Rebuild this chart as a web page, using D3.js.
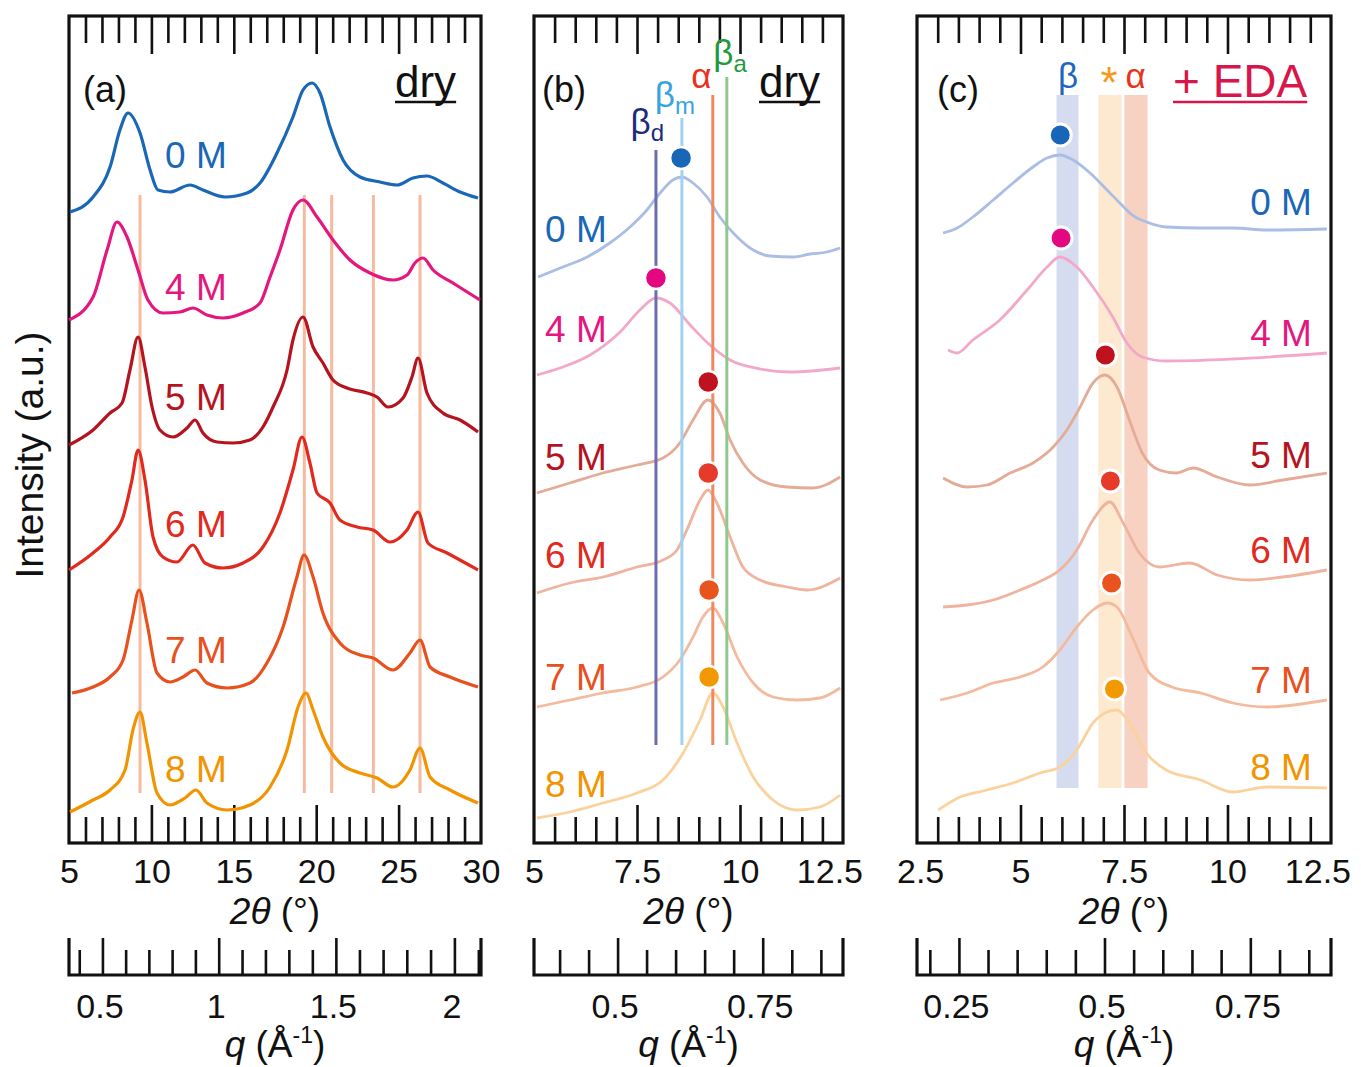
<!DOCTYPE html>
<html>
<head>
<meta charset="utf-8">
<script src="https://cdn.jsdelivr.net/npm/d3@7"></script>
<style>
body { margin: 0; background: #fff; }
svg { display: block; font-family: "Liberation Sans", Arial, Helvetica, sans-serif; }
</style>
</head>
<body>
<svg id="fig" width="1361" height="1067"></svg>
<script>
// ---------- data (2θ in degrees, intensity in arbitrary offset units) ----------
const concentrations = ["0 M", "4 M", "5 M", "6 M", "7 M", "8 M"]

// panel (a): dry, wide range
const a0M = [[5.06,631],[6.46,646],[7.49,676],[8.09,713],[8.58,730],[9.31,710],[9.92,673],[10.4,653],[11.13,651],[12.34,658],[13.13,653],[14.47,646],[15.8,650],[16.59,660],[17.62,690],[18.59,726],[19.2,753],[19.75,760],[20.23,750],[20.84,716],[21.63,683],[22.66,666],[23.87,661],[24.9,658],[25.87,665],[26.72,667],[27.69,660],[28.73,651],[29.82,645]]
const a4M = [[5.0,523],[6.46,546],[7.31,593],[7.91,621],[8.52,606],[9.19,573],[9.79,543],[10.7,530],[11.74,531],[12.52,535],[13.37,528],[14.34,525],[15.56,530],[16.59,540],[17.2,566],[17.8,593],[18.59,633],[19.2,643],[20.05,626],[21.02,603],[22.05,583],[23.26,570],[24.66,563],[25.51,568],[25.99,580],[26.48,585],[27.09,573],[28.3,560],[29.94,543]]
const a5M = [[5.0,398],[6.46,413],[7.49,430],[8.22,440],[8.7,473],[9.19,506],[9.61,476],[10.04,436],[10.52,413],[11.31,406],[12.16,415],[12.65,423],[13.13,410],[13.98,401],[14.95,400],[15.98,403],[16.77,416],[17.38,436],[18.23,473],[18.59,503],[19.2,526],[19.81,496],[20.41,480],[21.02,463],[21.87,455],[23.08,450],[23.69,446],[24.36,436],[25.27,445],[25.81,466],[26.18,485],[26.72,450],[27.69,430],[28.73,423],[29.82,411]]
const a6M = [[5.0,273],[6.46,290],[7.49,306],[8.28,326],[8.82,363],[9.19,393],[9.61,363],[10.1,306],[10.7,286],[11.55,281],[12.52,298],[13.25,280],[14.34,275],[15.56,280],[16.77,296],[17.8,330],[18.59,373],[19.14,406],[19.62,380],[20.05,350],[20.84,340],[21.44,323],[22.48,316],[23.45,313],[24.48,301],[25.51,313],[26.18,331],[26.78,300],[27.94,290],[29.82,273]]
const a7M = [[5.18,150],[6.46,156],[7.49,166],[8.28,183],[8.82,223],[9.25,253],[9.73,220],[10.34,170],[11.13,161],[11.92,166],[12.65,173],[13.37,160],[14.59,155],[15.98,160],[17.01,180],[17.99,216],[18.83,266],[19.26,288],[19.81,266],[20.41,230],[21.44,200],[22.66,188],[23.45,185],[24.66,173],[25.69,190],[26.3,203],[26.91,176],[28.12,166],[29.82,156]]
const a8M = [[5.06,31],[6.46,43],[7.49,53],[8.4,73],[8.88,113],[9.31,131],[9.73,100],[10.34,50],[11.13,38],[12.04,45],[12.71,53],[13.37,40],[14.59,33],[15.98,38],[17.2,56],[18.23,93],[18.9,136],[19.38,150],[19.81,133],[20.41,106],[21.44,80],[22.66,70],[23.69,65],[24.66,56],[25.69,73],[26.3,95],[26.91,66],[28.12,53],[29.82,40]]
const refLinesA = [9.31, 19.28, 20.94, 23.47, 26.3]

// panel (b): dry, low-angle zoom
const b0M = [[5.1,566],[5.7,576],[6.29,586],[6.84,600],[7.33,616],[7.74,633],[8.06,650],[8.37,663],[8.59,666],[8.86,660],[9.2,646],[9.51,626],[9.93,606],[10.32,593],[10.73,587],[11.29,586],[11.7,589],[12.11,591],[12.43,595]]
const b4M = [[5.07,468],[5.63,475],[6.36,488],[7.09,511],[7.57,533],[7.96,545],[8.3,540],[8.79,518],[9.27,498],[9.76,483],[10.49,474],[11.21,471],[12.43,475]]
const b5M = [[5.07,350],[5.87,360],[6.67,370],[7.5,378],[8.13,385],[8.54,400],[8.86,423],[9.22,443],[9.51,430],[9.76,403],[10.07,380],[10.49,363],[11.14,356],[11.77,355],[12.43,366]]
const b6M = [[5.07,250],[5.87,260],[6.67,266],[7.5,276],[8.13,283],[8.47,293],[8.71,313],[9.03,343],[9.22,353],[9.44,340],[9.76,306],[10.07,276],[10.49,263],[11.14,256],[11.63,253],[12.43,265]]
const b7M = [[5.07,136],[5.87,143],[6.67,150],[7.5,156],[8.13,166],[8.54,183],[8.86,206],[9.1,226],[9.34,235],[9.59,220],[9.93,186],[10.32,160],[10.8,146],[11.38,143],[11.94,145],[12.43,155]]
const b8M = [[5.07,25],[5.87,31],[6.67,40],[7.5,50],[8.13,63],[8.62,90],[9.03,123],[9.34,150],[9.59,136],[9.93,100],[10.32,66],[10.8,43],[11.38,33],[11.94,36],[12.43,48]]
const peaksB = [[8.57,685],[7.96,565],[9.23,461],[9.23,370],[9.25,253],[9.25,166]]
const phaseNamesB = ["β", "β", "α", "β"]
const phaseSubsB = ["d", "m", "", "a"]
const phaseTTB = [7.96, 8.59, 9.34, 9.68]
const phaseTopB = [693, 725, 748, 766]
const phaseBottomB = 98

// panel (c): + EDA
const c0M = [[3.13,610],[3.47,615],[3.85,626],[4.34,643],[4.82,660],[5.3,676],[5.64,685],[5.95,688],[6.27,683],[6.68,670],[7.09,653],[7.4,640],[7.7,628],[8.11,620],[8.52,616],[9.35,615],[10.13,615],[10.95,613],[12.4,614]]
const c4M = [[3.25,493],[3.47,490],[3.85,503],[4.5,523],[5.16,553],[5.64,576],[5.95,586],[6.36,576],[6.75,556],[7.23,526],[7.57,500],[7.94,486],[8.52,482],[10.13,484],[12.4,490]]
const c5M = [[3.13,365],[3.71,356],[4.19,358],[4.75,370],[5.3,380],[5.79,396],[6.12,413],[6.44,436],[6.75,460],[7.04,468],[7.33,456],[7.63,423],[7.94,390],[8.35,373],[8.76,370],[9.17,375],[9.75,366],[10.54,358],[11.34,363],[12.4,370]]
const c6M = [[3.13,236],[3.71,238],[4.34,243],[4.99,253],[5.54,263],[5.95,273],[6.36,293],[6.75,323],[7.16,341],[7.48,320],[7.87,290],[8.35,276],[9.09,280],[9.75,268],[10.54,263],[11.34,266],[12.4,273]]
const c7M = [[3.06,143],[3.71,150],[4.34,160],[4.99,166],[5.54,176],[5.95,193],[6.36,216],[6.75,233],[7.09,240],[7.33,236],[7.7,206],[8.11,170],[8.66,156],[9.35,150],[10.13,140],[10.95,136],[12.4,143]]
const c8M = [[3.01,33],[3.54,46],[4.19,53],[4.82,60],[5.47,70],[5.95,76],[6.36,93],[6.75,120],[7.09,131],[7.33,133],[7.63,120],[8.04,90],[8.52,73],[9.35,63],[10.13,51],[10.95,56],[12.4,55]]
const peaksC = [[5.96,708],[5.98,605],[7.05,488],[7.17,362],[7.2,260],[7.27,154]]
const bandNamesC = ["β", "*", "α"]
const bandRangesC = [[5.87,6.4],[6.88,7.44],[7.51,8.07]]
const bandTopC = 748, bandBottomC = 55

// tick labels
const ttLabelsA = [5, 10, 15, 20, 25, 30]
const ttLabelsB = [5, 7.5, 10, 12.5]
const ttLabelsC = [2.5, 5, 7.5, 10, 12.5]
const qLabelsA = [0.5, 1, 1.5, 2]
const qLabelsB = [0.5, 0.75]
const qLabelsC = [0.25, 0.5, 0.75]

// ---------- styles & layout ----------
const strongColors = ["#1a67b6", "#e3177e", "#b5131e", "#e1291d", "#e8501d", "#f29300"]
const paleColors = ["#aabde5", "#f3a8ca", "#e4ab97", "#efb39e", "#f3ba9d", "#fbd29d"]
const dotColors = ["#1766b8", "#e4077f", "#c0111f", "#e63a2a", "#e8531e", "#f29800"]
const phaseTextColors = ["#1c2a80", "#37a4e0", "#e8321e", "#1e9a3d"]
const phaseLineColors = ["#6d6cb0", "#a0d2f1", "#ec8a62", "#90c98d"]
const bandFills = ["#d5dcf0", "#fde9cf", "#f7d2c3"]
const bandTextColors = ["#1f66bd", "#f39a1b", "#e8321e"]

const TOP = 16, BOTTOM = 843, QBASE = 975
const lambda = 1.5406
const twoTheta = q => 2 * Math.asin(q * lambda / (4 * Math.PI)) * 180 / Math.PI

const svg = d3.select("#fig")
const y = d3.scaleLinear().domain([0, 827]).range([BOTTOM, TOP])
const line = x => d3.line().x(d => x(d[0])).y(d => y(d[1])).curve(d3.curveMonotoneX)

const panels = [
    {x0: 69, x1: 481, domain: [5, 30], step: 1, major: 5, labels: ttLabelsA, q: [0.4, 2.1, 0.1], qLabels: qLabelsA},
    {x0: 534, x1: 843, domain: [5, 12.5], step: 0.5, major: 2.5, labels: ttLabelsB, q: [0.4, 0.85, 0.05], qLabels: qLabelsB},
    {x0: 917, x1: 1331, domain: [2.5, 12.5], step: 0.5, major: 2.5, labels: ttLabelsC, q: [0.2, 0.85, 0.05], qLabels: qLabelsC}
]

const near = (a, b) => Math.abs(a - b) < 1e-6
const styleTicks = (g, w) => {
    g.select(".domain").remove()
    g.selectAll(".tick line").attr("stroke", "#111").attr("stroke-width", w)
}
const styleLabels = (g, size, yPos) => {
    g.select(".domain").remove()
    g.attr("font-family", null).attr("font-size", size)
    g.selectAll(".tick line").remove()
    g.selectAll(".tick text").attr("fill", "#111").attr("y", yPos).attr("dy", null)
}
// keep end labels from running far outside their frame
const clampLabels = (g, x0, x1) => {
    g.selectAll(".tick").each(function () {
        const t = d3.select(this).select("text")
        const w = t.node().getComputedTextLength()
        const cx = +d3.select(this).attr("transform").match(/translate\(([-\d.]+)/)[1]
        let dx = 0
        if (cx + w / 2 > x1 + 20) dx = x1 + 20 - (cx + w / 2)
        if (cx - w / 2 < x0 - 20) dx = x0 - 20 - (cx - w / 2)
        t.attr("dx", dx)
    })
}

const frames = panels.map(p => {
    const x = d3.scaleLinear().domain(p.domain).range([p.x0, p.x1])
    const g = svg.append("g")
    const inner = d3.range(p.domain[0], p.domain[1] + 1e-6, p.step)
        .filter(v => !near(v, p.domain[0]) && !near(v, p.domain[1]))
    const isMajor = v => near(v / p.major, Math.round(v / p.major))
    const minor = inner.filter(v => !isMajor(v)), major = inner.filter(isMajor)

    // ticks along top and bottom of the frame, pointing inward
    g.append("g").attr("transform", `translate(0,${BOTTOM})`)
        .call(d3.axisBottom(x).tickValues(minor).tickSize(-26).tickFormat(""))
        .call(s => styleTicks(s, 2.6))
    g.append("g").attr("transform", `translate(0,${BOTTOM})`)
        .call(d3.axisBottom(x).tickValues(major).tickSize(-38).tickFormat(""))
        .call(s => styleTicks(s, 2.6))
    g.append("g").attr("transform", `translate(0,${TOP})`)
        .call(d3.axisTop(x).tickValues(minor).tickSize(-27).tickFormat(""))
        .call(s => styleTicks(s, 2.6))
    g.append("g").attr("transform", `translate(0,${TOP})`)
        .call(d3.axisTop(x).tickValues(major).tickSize(-38).tickFormat(""))
        .call(s => styleTicks(s, 2.6))

    g.append("rect")
        .attr("x", p.x0).attr("y", TOP)
        .attr("width", p.x1 - p.x0).attr("height", BOTTOM - TOP)
        .attr("fill", "none").attr("stroke", "#111").attr("stroke-width", 3.2)

    const lab = g.append("g").attr("transform", `translate(0,${BOTTOM})`)
        .call(d3.axisBottom(x).tickValues(p.labels).tickSize(0).tickFormat(d => String(d)))
        .call(s => styleLabels(s, 34, 40))
    clampLabels(lab, p.x0, p.x1)

    const cx = (p.x0 + p.x1) / 2
    const t2 = g.append("text").attr("x", cx).attr("y", 924)
        .attr("text-anchor", "middle").attr("font-size", 37).attr("fill", "#111")
    t2.append("tspan").attr("font-style", "italic").text("2θ")
    t2.append("tspan").text(" (°)")

    // secondary q axis (Bragg's law, Cu Kα)
    const qGrid = d3.range(p.q[0] - 0.1, p.q[1] + 0.1, 0.005)
    const qx = d3.scaleLinear().domain(qGrid).range(qGrid.map(q => x(twoTheta(q))))
    const qAll = d3.range(p.q[0], p.q[1] + 1e-6, p.q[2])
    const qMajor = qAll.filter(v => p.qLabels.some(l => near(l, v)))
    const qMinor = qAll.filter(v => !p.qLabels.some(l => near(l, v)))
    g.append("g").attr("transform", `translate(0,${QBASE})`)
        .call(d3.axisBottom(qx).tickValues(qMinor).tickSize(-25).tickFormat(""))
        .call(s => styleTicks(s, 2.6))
    g.append("g").attr("transform", `translate(0,${QBASE})`)
        .call(d3.axisBottom(qx).tickValues(qMajor).tickSize(-37).tickFormat(""))
        .call(s => styleTicks(s, 2.6))
    g.append("path")
        .attr("d", `M${p.x0},${QBASE - 37}V${QBASE}H${p.x1}V${QBASE - 37}`)
        .attr("fill", "none").attr("stroke", "#111").attr("stroke-width", 3.2)
    g.append("g").attr("transform", `translate(0,${QBASE})`)
        .call(d3.axisBottom(qx).tickValues(p.qLabels).tickSize(0).tickFormat(d => String(d)))
        .call(s => styleLabels(s, 34, 43))
        .call(s => s.selectAll(".tick text").attr("dx", -3))

    const tq = g.append("text").attr("x", cx).attr("y", 1057)
        .attr("text-anchor", "middle").attr("font-size", 37).attr("fill", "#111")
    tq.append("tspan").attr("font-style", "italic").text("q")
    tq.append("tspan").text(" (Å")
    tq.append("tspan").attr("font-size", 23).attr("dy", -14).text("-1")
    tq.append("tspan").attr("dy", 14).text(")")
    return x
})

const [xa, xb, xc] = frames

// ---------- panel (a) ----------
const ga = svg.append("g")
ga.selectAll("line.ref").data(refLinesA).join("line")
    .attr("x1", d => xa(d)).attr("x2", d => xa(d))
    .attr("y1", y(648)).attr("y2", y(50))
    .attr("stroke", "#f6bb9f").attr("stroke-width", 3)
ga.selectAll("path.trace").data([a0M, a4M, a5M, a6M, a7M, a8M]).join("path")
    .attr("d", d => line(xa)(d))
    .attr("fill", "none").attr("stroke", (d, i) => strongColors[i])
    .attr("stroke-width", 3.2).attr("stroke-linejoin", "round")
const labelIA = [675, 543, 433, 306, 180, 61]
ga.selectAll("text.conc").data(concentrations).join("text")
    .attr("x", xa(10.83)).attr("y", (d, i) => y(labelIA[i]))
    .attr("font-size", 37).attr("fill", (d, i) => strongColors[i]).text(d => d)

// ---------- panel (b) ----------
const gb = svg.append("g")
gb.selectAll("path.trace").data([b0M, b4M, b5M, b6M, b7M, b8M]).join("path")
    .attr("d", d => line(xb)(d))
    .attr("fill", "none").attr("stroke", (d, i) => paleColors[i])
    .attr("stroke-width", 2.8).attr("stroke-linejoin", "round")
gb.selectAll("line.phase").data(phaseTTB).join("line")
    .attr("x1", d => xb(d)).attr("x2", d => xb(d))
    .attr("y1", (d, i) => y(phaseTopB[i])).attr("y2", y(phaseBottomB))
    .attr("stroke", (d, i) => phaseLineColors[i]).attr("stroke-width", 3)
const phaseLabelTT = [7.75, 8.42, 9.06, 9.76]
const phaseLabelI = [709, 736, 755, 778]
gb.selectAll("text.phase").data(phaseNamesB).join("text")
    .attr("x", (d, i) => xb(phaseLabelTT[i])).attr("y", (d, i) => y(phaseLabelI[i]))
    .attr("text-anchor", "middle").attr("font-size", 35)
    .attr("fill", (d, i) => phaseTextColors[i])
    .each(function (d, i) {
        const t = d3.select(this)
        t.append("tspan").text(d)
        if (phaseSubsB[i]) t.append("tspan").attr("font-size", 24).attr("dy", 7).text(phaseSubsB[i])
    })
gb.selectAll("circle").data(peaksB).join("circle")
    .attr("cx", d => xb(d[0])).attr("cy", d => y(d[1])).attr("r", 11)
    .attr("fill", (d, i) => dotColors[i]).attr("stroke", "#fff").attr("stroke-width", 2.5)
const labelIB = [601, 501, 373, 275, 153, 46]
gb.selectAll("text.conc").data(concentrations).join("text")
    .attr("x", xb(5.27)).attr("y", (d, i) => y(labelIB[i]))
    .attr("font-size", 37).attr("fill", (d, i) => strongColors[i]).text(d => d)

// ---------- panel (c) ----------
const gc = svg.append("g")
gc.selectAll("rect.band").data(bandRangesC).join("rect")
    .attr("x", d => xc(d[0])).attr("width", d => xc(d[1]) - xc(d[0]))
    .attr("y", y(bandTopC)).attr("height", y(bandBottomC) - y(bandTopC))
    .attr("fill", (d, i) => bandFills[i])
const bandLabelTT = [6.15, 7.14, 7.78]
gc.selectAll("text.band").data(bandNamesC).join("text")
    .attr("x", (d, i) => xc(bandLabelTT[i])).attr("y", (d, i) => y(d === "*" ? 745 : 755))
    .attr("text-anchor", "middle").attr("font-size", (d) => d === "*" ? 44 : 35)
    .attr("fill", (d, i) => bandTextColors[i]).text(d => d)
gc.selectAll("path.trace").data([c0M, c4M, c5M, c6M, c7M, c8M]).join("path")
    .attr("d", d => line(xc)(d))
    .attr("fill", "none").attr("stroke", (d, i) => paleColors[i])
    .attr("stroke-width", 2.8).attr("stroke-linejoin", "round")
gc.selectAll("circle").data(peaksC).join("circle")
    .attr("cx", d => xc(d[0])).attr("cy", d => y(d[1])).attr("r", 11)
    .attr("fill", (d, i) => dotColors[i]).attr("stroke", "#fff").attr("stroke-width", 3)
const labelIC = [628, 497, 375, 280, 150, 63]
gc.selectAll("text.conc").data(concentrations).join("text")
    .attr("x", xc(12.04)).attr("y", (d, i) => y(labelIC[i]))
    .attr("text-anchor", "end")
    .attr("font-size", 37).attr("fill", (d, i) => strongColors[i]).text(d => d)

// ---------- panel tags and titles ----------
const tags = [["(a)", 83, 102], ["(b)", 542, 102], ["(c)", 937, 102]]
svg.selectAll("text.tag").data(tags).join("text")
    .attr("x", d => d[1]).attr("y", d => d[2])
    .attr("font-size", 36).attr("fill", "#111").text(d => d[0])

const conditions = [["dry", 395, "#111", 44], ["dry", 759, "#111", 44], ["+ EDA", 1173, "#d7174b", 46]]
conditions.forEach(([txt, x0, col, size]) => {
    const t = svg.append("text").attr("x", x0).attr("y", 97)
        .attr("font-size", size).attr("fill", col).text(txt)
    const w = t.node().getComputedTextLength()
    svg.append("line").attr("x1", x0).attr("x2", x0 + w)
        .attr("y1", 102).attr("y2", 102).attr("stroke", col).attr("stroke-width", 2.5)
})

svg.append("text")
    .attr("transform", "translate(43,455) rotate(-90)")
    .attr("text-anchor", "middle").attr("font-size", 39).attr("fill", "#111")
    .text("Intensity (a.u.)")
</script>
</body>
</html>
